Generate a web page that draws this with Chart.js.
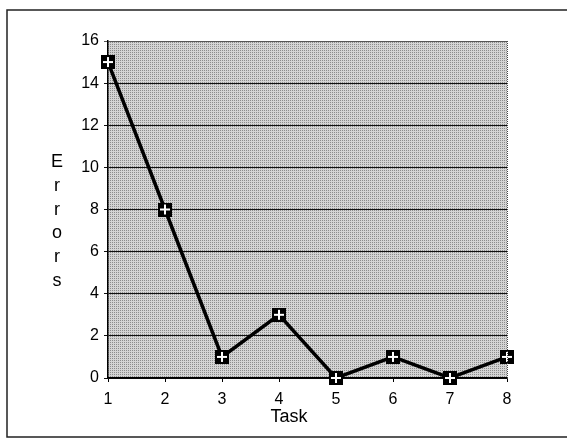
<!DOCTYPE html>
<html>
<head>
<meta charset="utf-8">
<script src="https://cdn.jsdelivr.net/npm/chart.js@4.4.0/dist/chart.umd.min.js"></script>
<style>
  html, body { margin: 0; padding: 0; background: #fff; }
  #wrap { width: 567px; height: 438px; }
</style>
</head>
<body>
<div id="wrap"><canvas id="errorsChart" width="567" height="438"></canvas></div>
<script>
// Chart data
const tasks = ['1', '2', '3', '4', '5', '6', '7', '8'];
const errors = [15, 8, 1, 3, 0, 1, 0, 1];
const yTicks = [0, 2, 4, 6, 8, 10, 12, 14, 16];
const xTitle = 'Task';
const yTitle = 'Errors';

const FONT = '"Liberation Sans", Arial, sans-serif';

// Stippled gray fill, like the scanned plot area
function makeDotPattern(ctx) {
    const c = document.createElement('canvas');
    c.width = 2; c.height = 2;
    const p = c.getContext('2d');
    p.fillStyle = '#d4d4d4';
    p.fillRect(0, 0, 2, 2);
    p.fillStyle = '#8c8c8c';
    p.fillRect(0, 0, 1, 1);
    return ctx.createPattern(c, 'repeat');
}

// Black square marker with a white plus
function makeMarker() {
    const c = document.createElement('canvas');
    c.width = 14; c.height = 14;
    const m = c.getContext('2d');
    m.fillStyle = '#000';
    m.fillRect(0, 0, 14, 14);
    m.fillStyle = '#fff';
    m.fillRect(6, 2, 2, 10);
    m.fillRect(2, 6, 10, 2);
    return c;
}

const frameAndTitles = {
    id: 'frameAndTitles',
    beforeDraw(chart) {
        const { ctx, chartArea: a } = chart;
        ctx.save();
        ctx.fillStyle = makeDotPattern(ctx);
        ctx.fillRect(a.left, a.top, a.right - a.left, a.bottom - a.top);
        ctx.restore();
    },
    afterDraw(chart) {
        const { ctx, chartArea: a } = chart;
        ctx.save();
        // outer frame
        ctx.strokeStyle = '#222';
        ctx.lineWidth = 1.5;
        ctx.beginPath();
        ctx.moveTo(567, 10);
        ctx.lineTo(7, 10);
        ctx.lineTo(7, 437);
        ctx.lineTo(567, 437);
        ctx.stroke();
        // right edge of plot, dotted
        ctx.strokeStyle = '#444';
        ctx.lineWidth = 1;
        ctx.setLineDash([1, 1]);
        ctx.beginPath();
        ctx.moveTo(a.right + 0.5, a.top);
        ctx.lineTo(a.right + 0.5, a.bottom);
        ctx.stroke();
        ctx.setLineDash([]);
        // axis titles
        ctx.fillStyle = '#000';
        ctx.font = '18px ' + FONT;
        ctx.textAlign = 'center';
        ctx.textBaseline = 'middle';
        ctx.fillText(xTitle, 289, 417);
        yTitle.split('').forEach((ch, i) => {
            ctx.fillText(ch, 57, 162 + i * 23.8);
        });
        ctx.restore();
    }
};

document.addEventListener('DOMContentLoaded', () => {
    const ctx = document.getElementById('errorsChart').getContext('2d');
    const marker = makeMarker();

    new Chart(ctx, {
        type: 'line',
        data: {
            labels: tasks,
            datasets: [{
                data: errors,
                borderColor: '#000',
                borderWidth: 3.5,
                tension: 0,
                pointStyle: marker,
                pointRadius: 7,
                pointHoverRadius: 7,
                clip: false
            }]
        },
        options: {
            responsive: false,
            animation: false,
            devicePixelRatio: 1,
            layout: { padding: { top: 41, right: 60, left: 0, bottom: 0 } },
            plugins: {
                legend: { display: false },
                tooltip: { enabled: false }
            },
            scales: {
                x: {
                    offset: false,
                    afterFit: (s) => { s.height = 60; },
                    grid: {
                        drawOnChartArea: false,
                        color: '#000',
                        tickLength: 4
                    },
                    border: { color: '#000', width: 1.5 },
                    ticks: {
                        color: '#000',
                        padding: 8,
                        maxRotation: 0,
                        font: { family: FONT, size: 16 }
                    }
                },
                y: {
                    min: 0,
                    max: 16,
                    afterFit: (s) => { s.width = 108; },
                    afterBuildTicks: (s) => { s.ticks = yTicks.map(v => ({ value: v })); },
                    grid: {
                        color: (c) => c.tick && c.tick.value === 16 ? '#555' : '#111',
                        lineWidth: 1,
                        tickLength: 4
                    },
                    border: { color: '#000', width: 1.5 },
                    ticks: {
                        color: '#000',
                        padding: 5,
                        font: { family: FONT, size: 16 }
                    }
                }
            }
        },
        plugins: [frameAndTitles]
    });
});
</script>
</body>
</html>
